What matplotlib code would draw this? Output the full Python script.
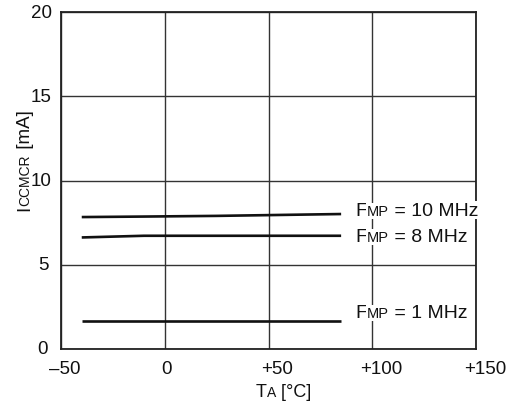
import numpy as np
import matplotlib
matplotlib.use("Agg")
import matplotlib.pyplot as plt
from matplotlib.transforms import offset_copy, blended_transform_factory

plt.rcParams['font.family'] = ['Liberation Sans', 'DejaVu Sans']

# data
temps = [-40, -10, 25, 85]
icc_10mhz = [7.83, 7.86, 7.90, 8.01]
icc_8mhz = [6.62, 6.72, 6.72, 6.72]
icc_1mhz = [1.68, 1.68, 1.68, 1.68]
series = [icc_10mhz, icc_8mhz, icc_1mhz]
freq_labels = ['10 MHz', '8 MHz', '1 MHz']
label_x = 91.7
label_y = [7.97, 6.43, 1.88]

xticks = [-50, 0, 50, 100, 150]
xticklabels = ['\u201350', '0', '+50', '+100', '+150']
yticks = [0, 5, 10, 15, 20]
yticklabels = ['0', '5', '10', '15', '20']

W, H = 513, 402
fig = plt.figure(figsize=(W / 100, H / 100), dpi=100)
ax = fig.add_axes([61 / W, 1 - 350 / H, 415 / W, 337 / H])

for ys in series:
    ax.plot(temps, ys, color='#111111', lw=1.9, solid_capstyle='butt', zorder=3)

ax.set_xlim(-50, 150)
ax.set_ylim(0, 20)
ax.set_xticks(xticks)
ax.set_yticks(yticks)
ax.set_xticklabels([])
ax.set_yticklabels([])
ax.tick_params(length=0)
ax.grid(True, color='#333333', lw=1.0)
for s in ax.spines.values():
    s.set_linewidth(1.3)
    s.set_color('#222222')

# tick labels, nudged like the original typesetting
tfs = 13.5
xt = blended_transform_factory(ax.transData, fig.transFigure)
x_nudge = [4, 2, 8.5, 9, 9]
for v, s, dx in zip(xticks, xticklabels, x_nudge):
    ax.text(v, 1 - 370 / H, s, fontsize=tfs, ha='center', va='center', color='#111111',
            transform=offset_copy(xt, fig=fig, x=dx, y=0, units='dots'), clip_on=False)
yt = blended_transform_factory(fig.transFigure, ax.transData)
for v, s in zip(yticks, yticklabels):
    cx = 41 if len(s) > 1 else 43
    ax.text(cx / W, v, s, fontsize=tfs, ha='center', va='center', color='#111111',
            transform=yt, clip_on=False)


def rich_text(x, y, parts, trans, rotation=0, bg=False):
    fig.canvas.draw()
    r = fig.canvas.get_renderer()
    for s, fs in parts:
        kw = {}
        if bg:
            kw['bbox'] = dict(fc='white', ec='none', pad=0.6)
        t = fig.text(x, y, s, fontsize=fs, rotation=rotation, rotation_mode='anchor',
                     ha='left', va='baseline', transform=trans, color='#111111',
                     zorder=5, **kw)
        ext = t.get_window_extent(r)
        if rotation == 0:
            trans = offset_copy(trans, fig=fig, x=ext.width, y=0, units='dots')
        else:
            trans = offset_copy(trans, fig=fig, x=0, y=ext.height, units='dots')


# curve labels with small-caps style subscripts
for ly, f in zip(label_y, freq_labels):
    rich_text(label_x, ly, [('F', 14), ('MP', 10.5), (' = ' + f, 14)], ax.transData, bg=True)

# axis labels
rich_text(256 / W, 1 - 397 / H, [('T', 13), ('A', 10), (' [\u00b0C]', 13)], fig.transFigure)
rich_text(29.5 / W, 1 - 211 / H, [('I', 13.5), ('CCMCR', 10), (' [mA]', 13.5)],
          fig.transFigure, rotation=90)

fig.savefig('out.png', dpi=100)
